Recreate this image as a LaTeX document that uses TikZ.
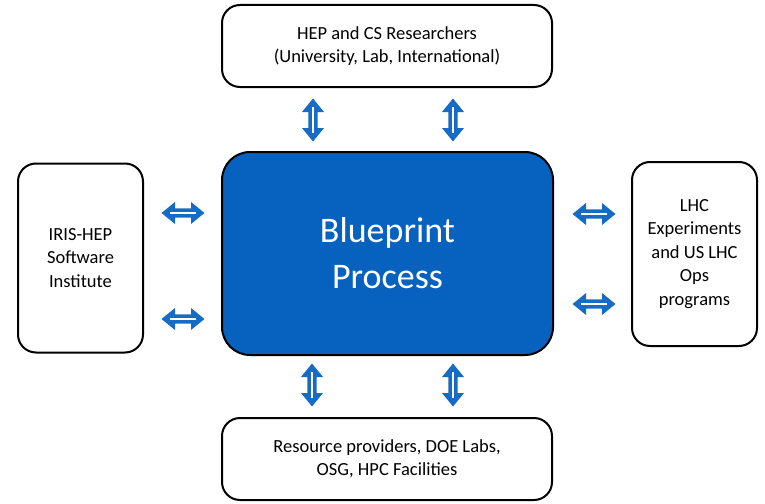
\documentclass[tikz,border=0pt]{standalone}
\usepackage{fontspec}
\setmainfont{Carlito}
\definecolor{boxblue}{RGB}{6,98,190}
\definecolor{arrowblue}{RGB}{22,108,196}
\begin{document}
\begin{tikzpicture}[x=1pt,y=-1pt,
  sidebox/.style={draw=black, line width=2pt, rounded corners=18pt, fill=white, align=center,
    font=\fontsize{18.5}{23.5}\selectfont, inner sep=0pt},
  mainbox/.style={draw=black, line width=2pt, rounded corners=28pt, fill=boxblue, align=center,
    text=white, font=\fontsize{36}{46}\selectfont, inner sep=0pt},
  dblarrow/.pic={
    \fill[arrowblue] (-21.5,0) -- (-8,-11) -- (-8,-4.6) -- (8,-4.6) -- (8,-11) -- (21.5,0)
      -- (8,11) -- (8,4.6) -- (-8,4.6) -- (-8,11) -- cycle;
    \draw[white, line width=1.5pt] (-13,0) -- (13,0);
  }]
\useasboundingbox (0,0) rectangle (765,503);
\node[sidebox, minimum width=330pt, minimum height=82pt] (top) at (387,46)
  {HEP and CS Researchers\\(University, Lab, International)};
\node[sidebox, minimum width=125pt, minimum height=189pt] (left) at (80.5,258)
  {IRIS-HEP\\Software\\Institute};
\node[mainbox, minimum width=331pt, minimum height=203pt] (main) at (387.5,253.5)
  {Blueprint\\Process};
\node[sidebox, minimum width=125pt, minimum height=184pt] (right) at (694.5,254)
  {LHC\\Experiments\\and US LHC\\Ops\\programs};
\node[sidebox, minimum width=330pt, minimum height=82pt] (bottom) at (387,459)
  {Resource providers, DOE Labs,\\OSG, HPC Facilities};
% arrows
\coordinate (at1) at (313,120);
\coordinate (at2) at (453,120);
\coordinate (ab1) at (312,385);
\coordinate (ab2) at (453,385);
\coordinate (al1) at (183,213);
\coordinate (al2) at (183,319);
\coordinate (ar1) at (594,214);
\coordinate (ar2) at (594,304);
\pic[rotate=90] at (at1) {dblarrow};
\pic[rotate=90] at (at2) {dblarrow};
\pic[rotate=90] at (ab1) {dblarrow};
\pic[rotate=90] at (ab2) {dblarrow};
\pic at (al1) {dblarrow};
\pic at (al2) {dblarrow};
\pic at (ar1) {dblarrow};
\pic at (ar2) {dblarrow};
\end{tikzpicture}
\end{document}
